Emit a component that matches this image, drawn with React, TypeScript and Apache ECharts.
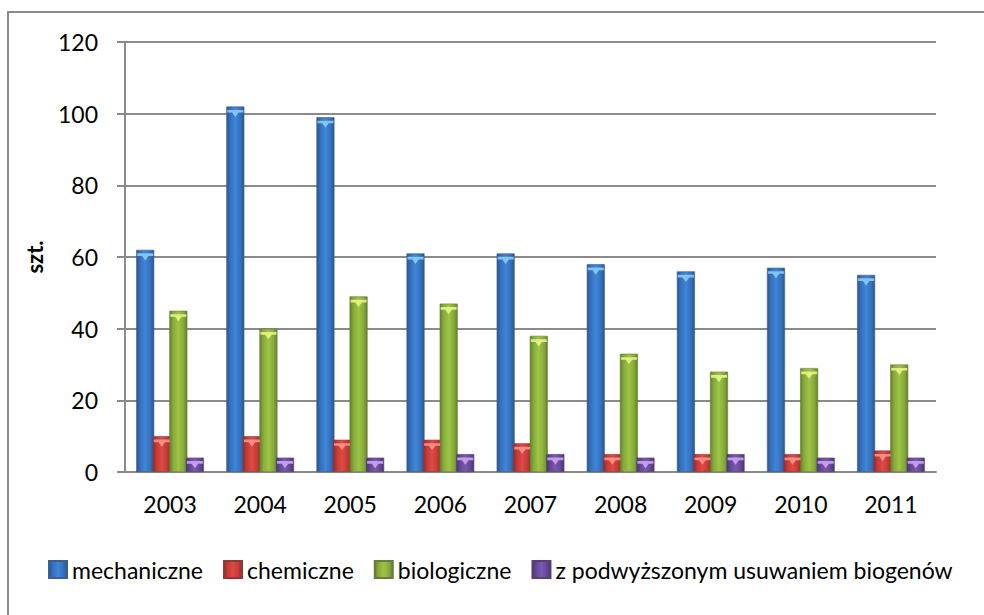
import React, { useEffect, useRef } from "react";
import * as echarts from "echarts";

const years = ["2003", "2004", "2005", "2006", "2007", "2008", "2009", "2010", "2011"];
const seriesNames = ["mechaniczne", "chemiczne", "biologiczne", "z podwyższonym usuwaniem biogenów"];
const mechaniczne = [62, 102, 99, 61, 61, 58, 56, 57, 55];
const chemiczne = [10, 10, 9, 9, 8, 5, 5, 5, 6];
const biologiczne = [45, 40, 49, 47, 38, 33, 28, 29, 30];
const podwyzszone = [4, 4, 4, 5, 5, 4, 5, 4, 4];
const yTicks = { min: 0, max: 120, interval: 20 };
const axisName = "szt.";

const palettes = [
  { dark: "#2b5590", mid: "#3470bb", bright: "#3f86d8", cap: "#8fd0fa", border: "#3d5f8c" },
  { dark: "#952a27", mid: "#c53a35", bright: "#de4a44", cap: "#fb9a92", border: "#8c3a37" },
  { dark: "#62812a", mid: "#86aa3a", bright: "#9dc445", cap: "#eef88a", border: "#6a7c3d" },
  { dark: "#4a3473", mid: "#644798", bright: "#7a58b0", cap: "#d2aaf5", border: "#55436f" },
];

const grad = (p: any) =>
  new echarts.graphic.LinearGradient(0, 0, 1, 0, [
    { offset: 0, color: p.dark },
    { offset: 0.2, color: p.mid },
    { offset: 0.5, color: p.bright },
    { offset: 0.8, color: p.mid },
    { offset: 1, color: p.dark },
  ]);

const FONT = "Lato";

export default function App() {
  const ref = useRef<HTMLDivElement>(null);
  useEffect(() => {
    if (!ref.current) return;
    const chart = echarts.init(ref.current, null, { renderer: "svg" });
    const data = [mechaniczne, chemiczne, biologiczne, podwyzszone];
    const barSeries: any[] = data.map((d, i) => ({
      name: seriesNames[i],
      type: "bar",
      data: d,
      barWidth: 18,
      barGap: "-8%",
      itemStyle: { color: grad(palettes[i]), borderColor: palettes[i].border, borderWidth: 0.6 },
    }));
    const capSeries: any[] = data.map((d, i) => ({
      name: "cap" + i,
      type: "pictorialBar",
      data: d,
      barWidth: 18,
      barGap: "-8%",
      symbol: "path://M0,0 L20,0 L20,3 L14,3 L10,8 L6,3 L0,3 Z",
      symbolSize: [16, 7],
      symbolPosition: "end",
      symbolOffset: [0, "50%"],
      itemStyle: { color: palettes[i].cap, opacity: 0.85 },
      z: 5,
      silent: true,
    }));
    chart.setOption({
      animation: false,
      backgroundColor: "#ffffff",
      textStyle: { fontFamily: FONT },
      graphic: [
        {
          type: "rect",
          shape: { x: 8, y: 12, width: 1100, height: 800 },
          style: { fill: "none", stroke: "#8c8c8c", lineWidth: 2 },
          silent: true,
        },
      ],
      grid: { left: 125, right: 48, top: 42, bottom: 143 },
      legend: {
        data: seriesNames,
        left: 43,
        top: 553,
        width: 2000,
        itemWidth: 18,
        itemHeight: 17,
        itemGap: 20,
        icon: "rect",
        textStyle: { fontFamily: FONT, fontSize: 23, color: "#000" },
      },
      xAxis: {
        type: "category",
        data: years,
        axisLine: { lineStyle: { color: "#8a8a8a", width: 2 } },
        axisTick: { show: false },
        axisLabel: { fontFamily: FONT, fontSize: 23, color: "#000", margin: 20 },
      },
      yAxis: {
        type: "value",
        min: yTicks.min,
        max: yTicks.max,
        interval: yTicks.interval,
        name: axisName,
        nameLocation: "middle",
        nameGap: 80,
        nameTextStyle: { fontFamily: FONT, fontSize: 22, fontWeight: "bold", color: "#000" },
        axisLine: { show: true, lineStyle: { color: "#8a8a8a", width: 2 } },
        axisTick: { show: true, inside: false, length: 8, lineStyle: { color: "#8a8a8a", width: 2 } },
        axisLabel: { fontFamily: FONT, fontSize: 23, color: "#000", margin: 27 },
        splitLine: { lineStyle: { color: "#8a8a8a", width: 2 } },
      },
      series: [...barSeries, ...capSeries],
    });
    return () => chart.dispose();
  }, []);
  return (
    <div style={{ position: "absolute", left: 0, top: 0, width: 984, height: 615, background: "#fff" }}>
      <div ref={ref} style={{ width: 984, height: 615 }} />
    </div>
  );
}
